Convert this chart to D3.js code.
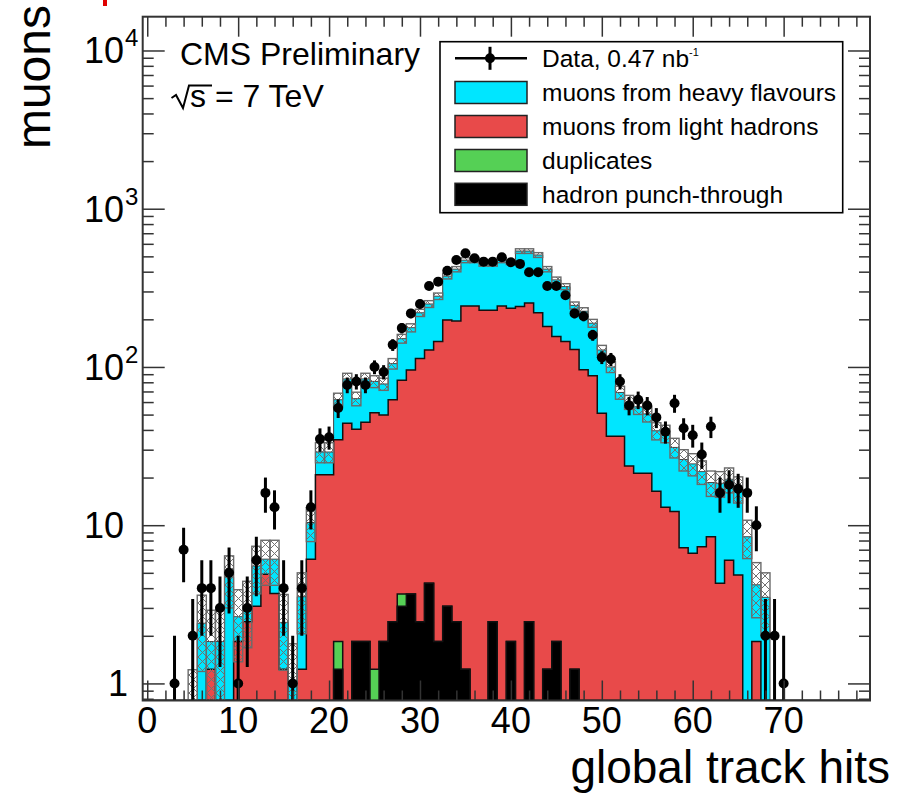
<!DOCTYPE html>
<html><head><meta charset="utf-8">
<script src="https://cdn.jsdelivr.net/npm/d3@7/dist/d3.min.js"></script>
<style>html,body{margin:0;padding:0;background:#fff;} svg{display:block;font-family:"Liberation Sans",Arial,Helvetica,sans-serif;}</style>
</head><body>
<svg id="chart" width="906" height="793"></svg>
<script>
// ---------------- data ----------------
const binCenters = d3.range(0, 80);
const dataCounts = [
  0,0,0,1,7,2,4,4,3,5,
  1,3,6,16,13,4,1,4,13,35,
  36,55,77,81,77,100,93,138,176,218,
  250,325,346,406,474,523,486,463,463,493,
  459,448,397,397,325,325,284,218,209,159,
  115,112,81,57,62,57,48,39,59,41,
  37,28,42,16,18,17,16,10,2,2,
  1,0,0,0,0,0,0,0,0,0];
const punchThrough = [
  0,0,0,0,0,0,0,0,0,0,
  0,0,0,0,0,0,0,0,0,0,
  0,1.23,0,1.84,1.84,0,1.84,2.45,3.07,3.68,
  2.45,4.29,1.84,3.07,2.45,1.23,0,0,2.45,0,
  1.84,0,2.45,0,1.23,1.84,0,1.23,0,0,
  0,0,0,0,0,0,0,0,0,0,
  0,0,0,0,0,0,0,0,0,0,
  0,0,0,0,0,0,0,0,0,0];
const duplicates = [
  0,0,0,0,0,0,0,0,0,0,
  0,0,0,0,0,0,0,0,0,0,
  0,0.61,0,0,0,1.23,0,0,0.61,0,
  0,0,0,0,0,0,0,0,0,0,
  0,0,0,0,0,0,0,0,0,0,
  0,0,0,0,0,0,0,0,0,0,
  0,0,0,0,0,0,0,0,0,0,
  0,0,0,0,0,0,0,0,0,0];
const lightHadrons = [
  0,0,0,0,0,0,0,1.23,0,0,
  1.84,2.45,3.07,4.9,3.7,1.23,0,1.23,6.1,20.8,
  20.8,32.8,44,38.5,42.9,50.2,47.9,59.5,78.8,92.1,
  110.5,123.7,143.2,194.9,192.5,241.8,243,228,225.5,243,
  233.2,241,251.5,220,178.8,154.2,145,127.8,96,88,
  51,36.5,36.5,23.7,21.3,21.3,16.4,13,12.2,7.2,
  6.65,7.3,8.45,4.3,6.0,4.85,0,1.84,0,0,
  0,0,0,0,0,0,0,0,0,0];
const heavyFlavours = [
  0,0,0,0,0,0.61,2.4,0.61,1.84,4.7,
  0.8,0.6,2.45,1.2,2.4,1.2,1.0,2.3,4.3,8.2,
  8.2,27.4,40,22.7,39.3,29.6,28.3,43,68.5,81.2,
  107,122,135,177,220,230,230,222,222,230,
  225,299,286,290,235,199,177,116,129,101,
  77,63.5,32.5,36.3,34.7,29.2,23.1,25,18.8,18.8,
  17.75,14.5,10.15,14.1,13.5,12.15,8.45,2.36,3.5,0,
  0,0,0,0,0,0,0,0,0,0];
const mcError = [
  0,0,0,0,0,0.61,1.21,1.06,1.06,1.70,
  1.27,1.37,1.84,1.93,1.93,1.22,0.78,1.47,2.52,4.2,
  4.2,6.2,7.2,6.2,7.2,7.0,6.9,8.0,9.6,10.4,
  11.6,12.4,13.1,15.2,15.9,17.0,17.0,16.6,16.6,17.0,
  16.8,18.2,18.2,17.7,15.9,14.8,14.0,12.3,11.7,10.8,
  8.9,7.8,6.5,6.1,5.9,5.6,4.9,4.8,4.4,4.0,
  3.9,3.7,3.4,3.4,3.5,3.2,2.3,1.6,1.5,0,
  0,0,0,0,0,0,0,0,0,0];
const xTickValues = [0,10,20,30,40,50,60,70];
const xTickLabels = ["0","10","20","30","40","50","60","70"];
const yTickPowers = [0,1,2,3,4];
const legendLabels = ["Data, 0.47 nb","muons from heavy flavours","muons from light hadrons","duplicates","hadron punch-through"];
const seriesKeys = ["punch","dup","light","heavy"];
const seriesColors = {heavy:"#00e6ff", light:"#e84a4a", dup:"#55d055", punch:"#000000"};

// ---------------- layout ----------------
const L=142.7, R=870, T=16.7, B=700.5;
const x = d3.scaleLinear().domain([-0.5,79.5]).range([L,R]);
const y = d3.scaleLog().domain([0.78,16350]).range([B,T]).clamp(true);
const yv = v => v>0 ? y(v) : B;

const svg = d3.select("#chart");
svg.append("rect").attr("width",906).attr("height",793).attr("fill","#fff");
const defs = svg.append("defs");
defs.append("clipPath").attr("id","plotclip").append("rect")
  .attr("x",L).attr("y",T).attr("width",R-L).attr("height",B-T);
const pat = defs.append("pattern").attr("id","hatch").attr("patternUnits","userSpaceOnUse")
  .attr("width",9).attr("height",9);
pat.append("path").attr("d","M0,0L9,9M9,0L0,9M-1,8L1,10M8,-1L10,1").attr("stroke","#707070").attr("stroke-width",1);

const plot = svg.append("g").attr("clip-path","url(#plotclip)");

// stacked histograms
const rows = binCenters.map((b,i)=>({bin:b, punch:punchThrough[i], dup:duplicates[i], light:lightHadrons[i], heavy:heavyFlavours[i]}));
const series = d3.stack().keys(seriesKeys)(rows);
const stepPts = s => { const p = s.map((d,i)=>[binCenters[i]-0.5, d[1]]); p.push([binCenters[binCenters.length-1]+0.5, s[s.length-1][1]]); return p; };
const area = d3.area().curve(d3.curveStepAfter).x(d=>x(d[0])).y0(B).y1(d=>yv(d[1]));
const line = d3.line().curve(d3.curveStepAfter).x(d=>x(d[0])).y(d=>yv(d[1]));
[...series].reverse().forEach(s=>{
  const pts = stepPts(s);
  plot.append("path").attr("d",area(pts)).attr("fill",seriesColors[s.key]);
  const outline = [[pts[0][0],0]].concat(pts);
  plot.append("path").attr("d",line(outline)).attr("fill","none")
    .attr("stroke", s.key==="heavy" ? "#444" : "#111").attr("stroke-width", s.key==="heavy"?1:1.5);
});

// MC uncertainty band
const totals = series[series.length-1].map(d=>d[1]);
plot.selectAll("rect.band").data(binCenters.filter((b,i)=>totals[i]>0)).join("rect")
  .attr("class","band")
  .attr("x",b=>x(b-0.5)).attr("width",b=>x(b+0.5)-x(b-0.5))
  .attr("y",b=>yv(totals[b]+mcError[b]))
  .attr("height",b=>yv(Math.max(totals[b]-mcError[b],1e-3))-yv(totals[b]+mcError[b]))
  .attr("fill","url(#hatch)").attr("stroke","#6a6a6a").attr("stroke-width",1.4);

// data points
const dpts = binCenters.filter((b,i)=>dataCounts[i]>0);
plot.selectAll("line.err").data(dpts).join("line").attr("class","err")
  .attr("x1",b=>x(b)).attr("x2",b=>x(b))
  .attr("y1",b=>yv(dataCounts[b]+Math.sqrt(dataCounts[b])))
  .attr("y2",b=>yv(dataCounts[b]-Math.sqrt(dataCounts[b])))
  .attr("stroke","#000").attr("stroke-width",3);
plot.selectAll("circle.pt").data(dpts).join("circle").attr("class","pt")
  .attr("cx",b=>x(b)).attr("cy",b=>yv(dataCounts[b])).attr("r",5).attr("fill","#000");

// ---------------- axes ----------------
const tickCol = "#333";
function styleAxis(g){ g.select(".domain").remove(); g.selectAll(".tick line").attr("stroke",tickCol).attr("stroke-width",1.5); g.selectAll(".tick text").remove(); }
const xMinor = d3.range(0,80,2).filter(v=>v%10!==0);
svg.append("g").attr("transform",`translate(0,${B})`).call(d3.axisBottom(x).tickValues(xTickValues).tickSize(-20)).call(styleAxis);
svg.append("g").attr("transform",`translate(0,${B})`).call(d3.axisBottom(x).tickValues(xMinor).tickSize(-10)).call(styleAxis);
svg.append("g").attr("transform",`translate(0,${T})`).call(d3.axisTop(x).tickValues(xTickValues).tickSize(-20)).call(styleAxis);
svg.append("g").attr("transform",`translate(0,${T})`).call(d3.axisTop(x).tickValues(xMinor).tickSize(-10)).call(styleAxis);
const yMajor = yTickPowers.map(p=>Math.pow(10,p));
const yMinor = [];
[-1,0,1,2,3,4].forEach(p=>{ for(let k=2;k<=9;k++){ const v=k*Math.pow(10,p); if(v>0.78 && v<16350) yMinor.push(v);} });
svg.append("g").attr("transform",`translate(${L},0)`).call(d3.axisLeft(y).tickValues(yMajor).tickSize(-22)).call(styleAxis);
svg.append("g").attr("transform",`translate(${L},0)`).call(d3.axisLeft(y).tickValues(yMinor).tickSize(-11)).call(styleAxis);
svg.append("g").attr("transform",`translate(${R},0)`).call(d3.axisRight(y).tickValues(yMajor).tickSize(-22)).call(styleAxis);
svg.append("g").attr("transform",`translate(${R},0)`).call(d3.axisRight(y).tickValues(yMinor).tickSize(-11)).call(styleAxis);
svg.append("rect").attr("x",L).attr("y",T).attr("width",R-L).attr("height",B-T)
  .attr("fill","none").attr("stroke","#333").attr("stroke-width",2);

// tick labels
svg.selectAll("text.xl").data(xTickValues).join("text").attr("class","xl")
  .attr("x",(v)=>x(v)).attr("y",733).attr("text-anchor","middle")
  .attr("font-size",36).attr("fill","#000").text((v,i)=>xTickLabels[i]);
yTickPowers.forEach(p=>{
  const yy = y(Math.pow(10,p));
  if(p===0){
    svg.append("text").attr("x",128).attr("y",yy+13).attr("text-anchor","end").attr("font-size",36).text("1");
  } else {
    svg.append("text").attr("x",124).attr("y",yy+13).attr("text-anchor","end").attr("font-size",36).text("10");
    if(p>1) svg.append("text").attr("x",125).attr("y",yy-4).attr("text-anchor","start").attr("font-size",24).text(String(p));
  }
});
// axis titles
svg.append("text").attr("x",890).attr("y",783).attr("text-anchor","end").attr("font-size",46).text("global track hits");
svg.append("text").attr("transform","translate(50,5) rotate(-90)").attr("text-anchor","end").attr("font-size",48).text("muons");

// CMS labels
svg.append("text").attr("x",180).attr("y",65).attr("font-size",32).text("CMS Preliminary");
svg.append("path").attr("d","M171.5,98 L176,95 L183,108 L189,85.5 L212,85.5").attr("fill","none").attr("stroke","#000").attr("stroke-width",2);
svg.append("text").attr("x",190).attr("y",107).attr("font-size",32).text("s = 7 TeV");
svg.append("rect").attr("x",103).attr("y",0).attr("width",4).attr("height",6).attr("fill","#e00000");

// legend
const lg = svg.append("g");
lg.append("rect").attr("x",440).attr("y",41.7).attr("width",402.7).attr("height",171).attr("fill","#fff").attr("stroke","#000").attr("stroke-width",1.6);
const rowY = [58.3,92.5,126.5,160.5,194.3];
const swKeys = [null,"heavy","light","dup","punch"];
legendLabels.forEach((lab,i)=>{
  const cy=rowY[i];
  if(i===0){
    lg.append("line").attr("x1",455).attr("x2",527).attr("y1",cy).attr("y2",cy).attr("stroke","#000").attr("stroke-width",2.5);
    lg.append("line").attr("x1",490).attr("x2",490).attr("y1",cy-11.5).attr("y2",cy+11.5).attr("stroke","#000").attr("stroke-width",3);
    lg.append("circle").attr("cx",490).attr("cy",cy).attr("r",5).attr("fill","#000");
    const t = lg.append("text").attr("x",542).attr("y",cy+8.5).attr("font-size",24.5).text(lab);
    t.append("tspan").attr("font-size",11).attr("dy",-11).text("-1");
  } else {
    lg.append("rect").attr("x",455).attr("y",cy-11).attr("width",72).attr("height",22)
      .attr("fill",seriesColors[swKeys[i]]).attr("stroke","#222").attr("stroke-width",1.5);
    lg.append("text").attr("x",542).attr("y",cy+8.5).attr("font-size",24.5).text(lab);
  }
});
</script>
</body></html>
